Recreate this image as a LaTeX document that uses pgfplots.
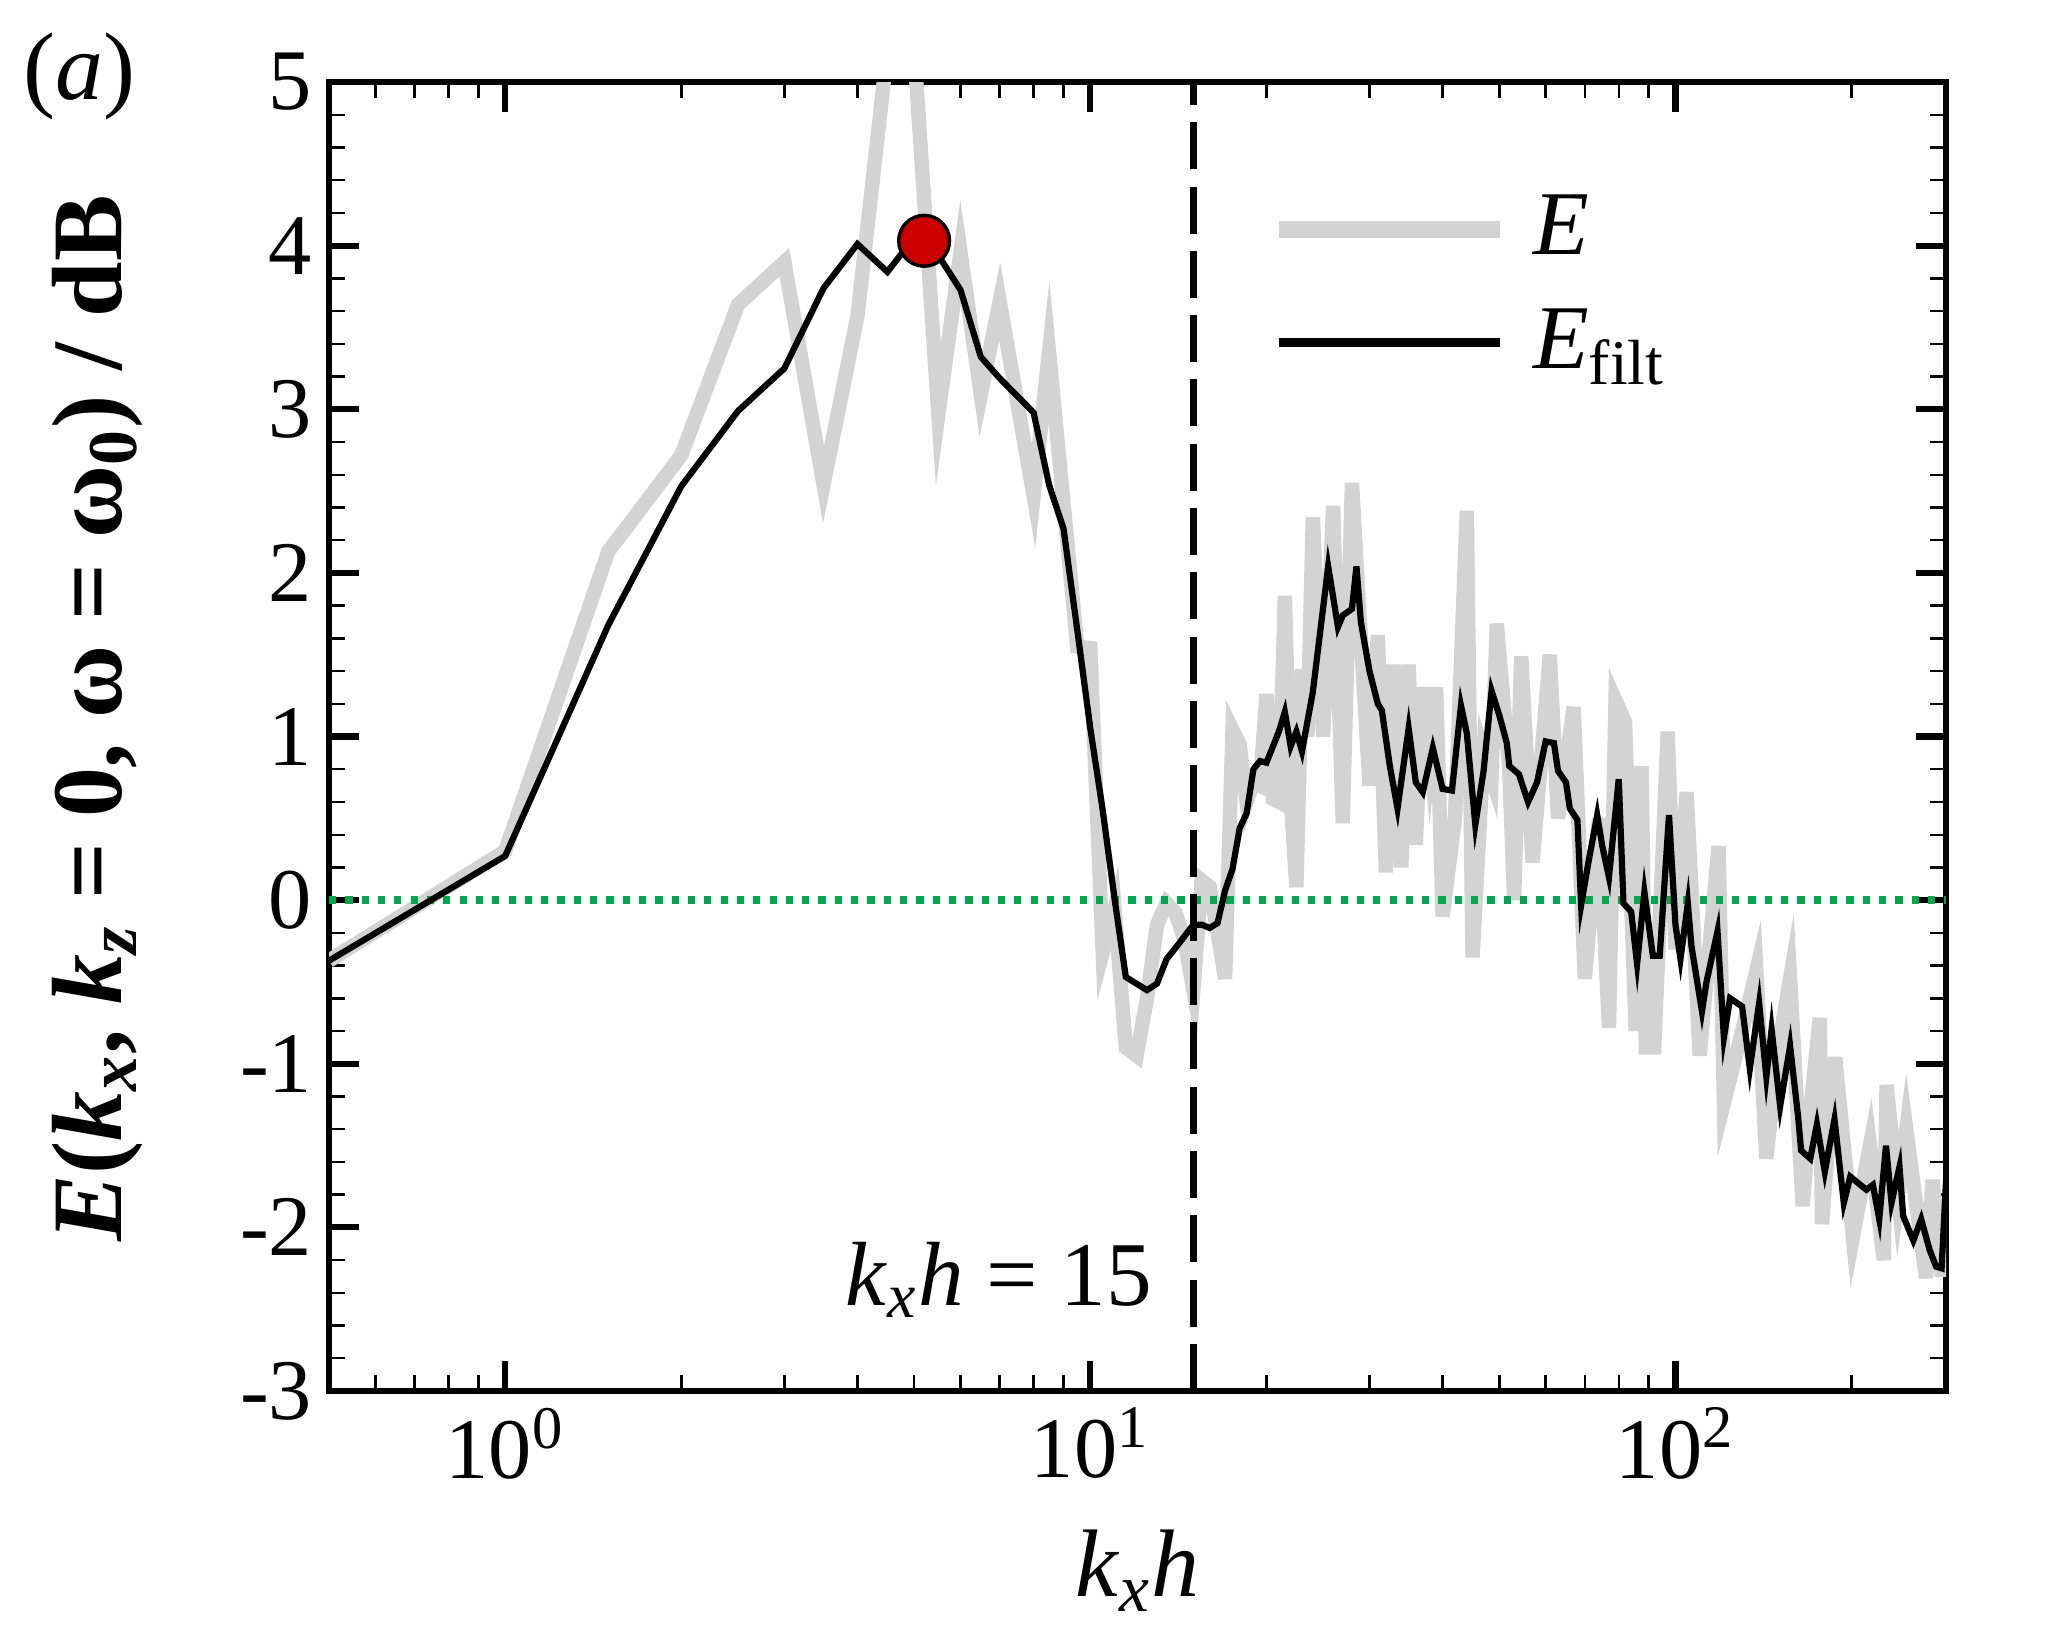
\documentclass[border=0pt]{standalone}
\usepackage{fontspec}
\setmainfont{Liberation Serif}
\usepackage{pgfplots}
\usepackage{pgfplotstable}
\pgfplotsset{compat=1.18}
\definecolor{grayE}{RGB}{211,211,211}
\definecolor{greenz}{RGB}{0,168,80}
\definecolor{reddot}{RGB}{204,0,0}

\pgfplotstableread{
x y
0.5 -0.37
1 0.30
1.5 2.13
2 2.72
2.5 3.64
3 3.90
3.5 2.54
4 3.57
4.5 5.2
5 5.2
5.5 2.97
6 3.96
6.5 3.09
7 3.66
8 2.47
8.5 3.35
9.5 1.55
10 1.54
10.5 -0.32
11 -0.05
11.5 -0.90
12 -0.95
12.5 -0.60
13 -0.15
13.5 -0.02
14 -0.08
14.5 -0.25
15 -0.55
15.5 0.12
16 0.08
16.5 -0.20
17 -0.48
17.5 1.04
18 0.95
18.5 0.60
19 0.72
19.5 0.70
20 1.26
20.5 0.62
21 0.60
21.5 1.86
22 0.62
22.5 0.08
23 1.41
23.5 1.00
24 2.34
25 1.00
26 2.41
27 0.47
28 2.55
29 1.60
30 0.70
31 1.62
32 0.17
33 1.44
34 0.20
35 1.44
36 0.34
37 1.30
38 0.90
39 1.30
40 -0.10
42 0.50
44 2.38
45 -0.35
47 0.90
48.5 0.75
49.5 1.69
52 0.80
53 0.00
54.5 1.49
57 0.23
61 1.50
63 0.50
67 1.18
70 -0.48
74 0.50
77 -0.78
79 1.22
82 1.09
85.5 -0.80
87.5 0.82
89 -0.90
92 -0.90
97 1.03
100 -0.30
104.5 0.66
110 -0.95
118.5 0.33
121 -1.24
130 -0.80
137.5 -0.43
143 -1.58
150 -0.90
157 -0.48
165 -1.87
171 -1.20
176.5 -0.72
178 -1.98
187.5 -0.96
201 -2.06
215 -1.50
227 -2.20
229.5 -1.13
240 -1.80
248 -1.40
268 -2.31
275 -1.71
285 -2.30
290 -1.90
}\grayE

\pgfplotstableread{
x y
0.5 -0.37
1 0.27
1.5 1.68
2 2.53
2.5 2.99
3 3.25
3.5 3.74
4 4.01
4.5 3.84
5 4.05
5.5 3.94
6 3.73
6.5 3.32
7 3.19
8 2.98
8.5 2.54
9 2.27
9.5 1.65
10 1.05
10.5 0.55
11 0.01
11.5 -0.47
12.5 -0.55
13 -0.51
13.5 -0.36
14 -0.29
15 -0.15
15.5 -0.15
16 -0.17
16.5 -0.14
17 0.06
17.5 0.19
18 0.44
18.5 0.53
19 0.80
19.5 0.85
20 0.84
21 1.03
21.5 1.15
22 0.94
22.5 1.03
23 0.91
24 1.27
25.5 2.04
26.5 1.67
27 1.74
28 1.78
28.5 2.04
29 1.70
30 1.40
31 1.20
31.5 1.16
32.5 0.82
33.5 0.56
35 1.05
36 0.72
37 0.66
38.5 0.93
40 0.68
41.5 0.67
43 1.19
44 1.02
45.5 0.46
47 0.79
48.5 1.28
50 1.13
51.5 0.96
52 0.82
54 0.77
56 0.60
58 0.72
60 0.97
62 0.96
63 0.79
65 0.72
66 0.56
68 0.49
69 -0.03
71 0.23
73.5 0.52
75 0.33
77 0.14
80 0.74
81.5 -0.02
84 -0.07
86 -0.39
88.5 0.05
91.5 -0.34
94 -0.34
97.5 0.52
100 -0.15
102 -0.36
105 -0.02
106.5 -0.28
111 -0.68
113 -0.50
118 -0.19
121 -0.84
124 -0.60
130 -0.65
134 -1.03
139 -0.63
143 -1.08
146 -0.79
151 -1.26
157 -0.89
162 -1.32
164 -1.53
170 -1.58
174.5 -1.37
180 -1.66
187 -1.34
194 -1.85
199 -1.69
212 -1.77
217.5 -1.74
223 -1.95
229 -1.50
234 -1.85
241.5 -1.63
245 -1.93
255 -2.08
263 -1.95
272 -2.14
279 -2.24
285 -2.25
290 -1.72
}\filtE

\begin{document}
\begin{tikzpicture}
\path[use as bounding box] (-2.410cm,-1.816cm) rectangle (12.590cm,10.188cm);
\begin{axis}[
  name=ax,
  scale only axis, width=11.843cm, height=9.587cm,
  xmode=log, xmin=0.5, xmax=290, ymin=-3, ymax=5,
  axis line style={line width=1.3pt},
  xtick={1,10,100},
  xticklabels={10\textsuperscript{0},10\textsuperscript{1},10\textsuperscript{2}},
  minor xtick={0.5,0.6,0.7,0.8,0.9,2,3,4,5,6,7,8,9,20,30,40,50,60,70,80,90,200},
  ytick={-3,-2,-1,0,1,2,3,4,5},
  yticklabels={-3,-2,-1,0,1,2,3,4,5},
  minor y tick num=4,
  tick align=inside,
  xtick pos=both, ytick pos=both,
  major tick length=0.22cm, minor tick length=0.12cm,
  every major tick/.append style={line width=1.3pt, black},
  every minor tick/.append style={line width=0.5pt, black},
  tick label style={font=\fontsize{18}{18}\selectfont},
  xlabel={\textit{k}\textsubscript{\textit{x}}\textit{h}},
  xlabel style={font=\fontsize{20}{20}\selectfont, at={(axis description cs:0.5,-0.157)}, anchor=base},
  ylabel={\textbf{\textit{E}(\textit{k}\textsubscript{\textit{x}}, \textit{k}\textsubscript{\textit{z}} = 0, ω = ω\textsubscript{0}) / dB}},
  ylabel style={font=\fontsize{20.8}{20.8}\selectfont, at={(axis description cs:-0.143,0.514)}, anchor=center},
  legend style={at={(0.582,0.921)}, anchor=north west, draw=none, fill=none, inner sep=0pt,
    font=\fontsize{19}{19}\selectfont,
    nodes={inner sep=0pt, text height=0.5cm, text depth=0.33cm},
    /tikz/every odd column/.append style={column sep=0.18cm}},
  legend cell align=left,
  legend image code/.code={\draw[#1] (0cm,0.1cm) -- (1.62cm,0.1cm);},
]
\addplot[grayE, line width=3.0pt, line join=miter, legend image post style={line width=3.4pt}] table[x=x,y=y] {\grayE};
\addlegendentry{\textit{E}}
\addplot[greenz, line width=1.7pt, dash pattern=on 1.5pt off 1.9pt, forget plot] coordinates {(0.5,0) (290,0)};
\addplot[black, line width=1.4pt, dash pattern=on 9.8pt off 3.6pt, forget plot] coordinates {(15,-3) (15,5)};
\addplot[black, line width=1.3pt, legend image post style={line width=1.8pt}] table[x=x,y=y] {\filtE};
\addlegendentry{\textit{E}\textsubscript{filt}}
\addplot[only marks, mark=*, mark size=5.3pt, mark options={fill=reddot, draw=black, line width=0.7pt}, forget plot] coordinates {(5.2,4.03)};
\node[anchor=base east, font=\fontsize{19}{19}\selectfont, inner sep=0pt] at (axis cs:12.8,-2.475) {\textit{k}\textsubscript{\textit{x}}\textit{h} = 15};
\end{axis}
\node[font=\fontsize{20}{20}\selectfont, anchor=center] at ([xshift=-1.83cm, yshift=0.04cm]ax.north west) {(\textit{a})};
\end{tikzpicture}
\end{document}
